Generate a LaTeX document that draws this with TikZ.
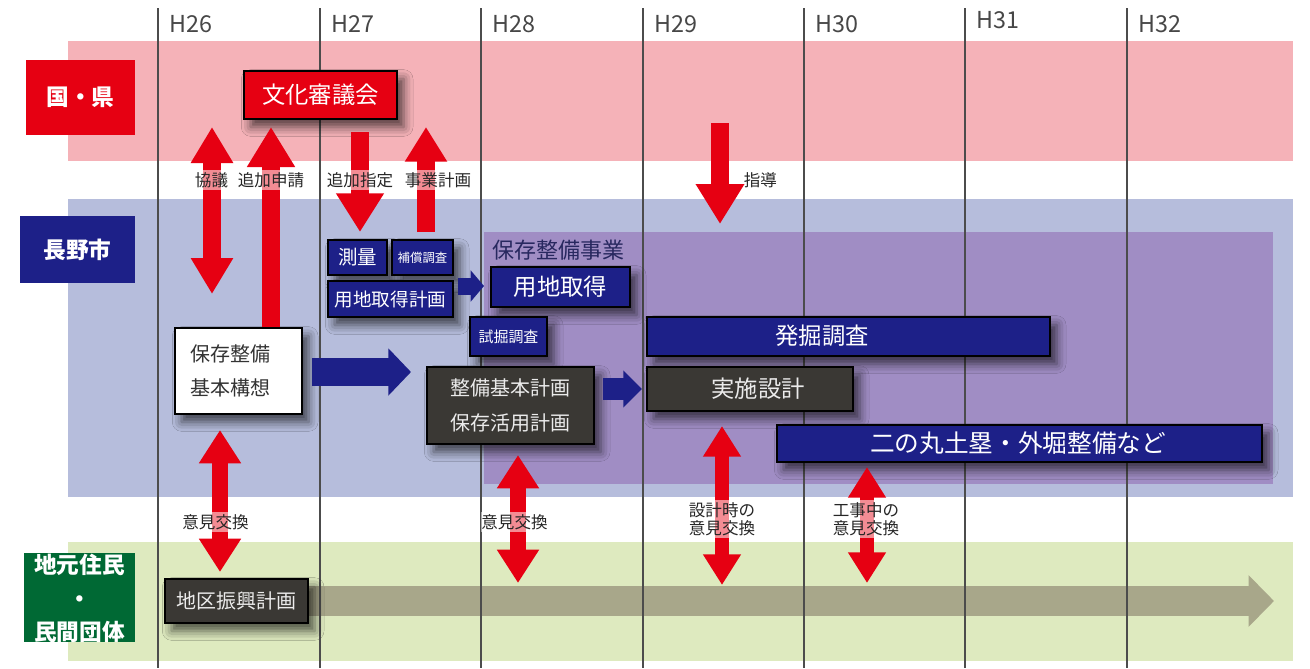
\documentclass[tikz,border=0pt]{standalone}
\usepackage{fontspec}
\setmainfont{Noto Sans CJK JP}
\usetikzlibrary{arrows.meta,shadows,shadows.blur,fit,calc}
\definecolor{pinkband}{RGB}{245,178,184}
\definecolor{blueband}{RGB}{182,189,220}
\definecolor{purplereg}{RGB}{160,141,196}
\definecolor{greenband}{RGB}{222,234,191}
\definecolor{navyc}{RGB}{29,32,136}
\definecolor{redc}{RGB}{230,0,18}
\definecolor{darkc}{RGB}{58,56,52}
\definecolor{olivec}{RGB}{168,167,138}
\definecolor{jgreen}{RGB}{0,105,52}
\definecolor{labnavy}{RGB}{40,40,95}
\definecolor{shadowc}{RGB}{20,15,50}
\tikzset{
  lane/.style={inner sep=0pt, text=white, font=\bfseries\fontsize{17pt}{19pt}\selectfont, align=center},
  box/.style={inner sep=0pt, draw=black, line width=1.2pt,
    blur shadow={shadow xshift=5pt,shadow yshift=-6pt,shadow blur radius=7pt,shadow opacity=65}},
  navybox/.style={box, fill=navyc, text=white},
  darkbox/.style={box, fill=darkc, text=black!8},
  lbl/.style={fill=white, fill opacity=0.55, text opacity=1, text=black!85, inner xsep=0.5pt, inner ysep=1.5pt, font=\fontsize{12.4pt}{13pt}\selectfont},
  yr/.style={anchor=west, text=black!72, font=\fontsize{17.5pt}{18pt}\selectfont},
  vline/.style={draw=black!70, line width=1pt},
}
\begin{document}
\begin{tikzpicture}[x=0.75pt,y=-0.75pt]
\useasboundingbox (0,0) rectangle (1310,668);
\fill[white] (0,0) rectangle (1310,668);
% bands
\fill[pinkband] (68,41) rectangle (1293,161);
\fill[blueband] (68,199) rectangle (1293,497);
\fill[greenband] (68,542) rectangle (1293,661);
\fill[purplereg] (484,232) rectangle (1273,484);
\node[anchor=west, inner sep=0pt, text=labnavy, font=\fontsize{16.5pt}{17pt}\selectfont] (hozonlbl) at (492,250) {保存整備事業};
% olive bar
\coordinate (chikuC) at (236,601);
\coordinate (barend) at (1274,601);
\draw[olivec, line width=22.5pt, -{Triangle[width=37.5pt,length=19pt]}] (chikuC) -- (barend);
% vertical lines and years
\foreach \x/\t/\yy in {158/H26/24,320/H27/24,481/H28/24,643/H29/24,804/H30/24,965/H31/20,1127/H32/24}{
  \draw[vline] (\x,8) -- (\x,668);
  \node[yr] (yr\t) at (\x+7,\yy) {\t};
}
% lane labels
\node[lane, fill=redc, fit={(26,60) (135,135)}] (ken) {};
\node[lane] at (ken.center) (kentxt) {国・県};
\node[lane, fill=navyc, fit={(20,216) (135,283)}] (shi) {};
\node[lane] at (shi.center) (shitxt) {長野市};
\node[lane, fill=jgreen, fit={(24,553) (135,642)}] (jim) {};
\node[lane, font=\bfseries\fontsize{17pt}{25pt}\selectfont] at ($(jim.center)+(0,1)$) (jimtxt) {地元住民\\・\\民間団体};
% boxes
\node[box, fill=redc, fit={(244,71) (397,119)}] (bunka) {};
\node[text=white, font=\fontsize{17.5pt}{18pt}\selectfont] at (bunka.center) {文化審議会};
\node[navybox, fit={(328,240) (387,275)}] (sokuryo) {};
\node[text=white, font=\fontsize{14.6pt}{15pt}\selectfont] at (sokuryo.center) {測量};
\node[navybox, fit={(392,240) (453,275)}] (hosho) {};
\node[text=white, font=\fontsize{9.3pt}{10pt}\selectfont] at (hosho.center) {補償調査};
\node[navybox, fit={(328,281) (453,317)}] (yochikei) {};
\node[text=white, font=\fontsize{13.9pt}{14pt}\selectfont] at (yochikei.center) {用地取得計画};
\node[navybox, fit={(491,267) (630,307)}] (yochi) {};
\node[text=white, font=\fontsize{17.5pt}{18pt}\selectfont] at (yochi.center) {用地取得};
\node[navybox, fit={(470,317) (547,356)}] (shikutsu) {};
\node[text=white, font=\fontsize{11.2pt}{12pt}\selectfont] at (shikutsu.center) {試掘調査};
\node[box, fill=white, fit={(175,328) (302,414)}] (kousou) {};
\node[anchor=west, align=left, text=black!80, font=\fontsize{15pt}{26pt}\selectfont] at (186,371) {保存整備\\基本構想};
\node[darkbox, fit={(427,367) (594,444)}] (kihon) {};
\node[text=black!8, align=center, font=\fontsize{15pt}{26pt}\selectfont] at (kihon.center) {整備基本計画\\保存活用計画};
\node[navybox, fit={(647,317) (1050,356)}] (hakkutsu) {};
\node[text=white, font=\fontsize{17.5pt}{18pt}\selectfont] at (822,336) {発掘調査};
\node[darkbox, fit={(647,367) (853,411)}] (jisshi) {};
\node[text=black!8, font=\fontsize{17.5pt}{18pt}\selectfont] at (758,389) {実施設計};
\node[navybox, fit={(777,425) (1262,462)}] (ninomaru) {};
\node[text=white, font=\fontsize{18.5pt}{19pt}\selectfont] at (1018,443) {二の丸土塁・外堀整備など};
\node[darkbox, fit={(165,579) (308,623)}] (chiku) {};
\node[text=black!8, font=\fontsize{15pt}{16pt}\selectfont] at (chiku.center) {地区振興計画};
% navy arrows
\coordinate (na1S) at (312,372); \coordinate (na1E) at (411,372);
\draw[navyc, line width=21pt, -{Triangle[width=34.5pt,length=17pt]}] (na1S) -- (na1E);
\coordinate (na2S) at (458,286); \coordinate (na2E) at (484,286);
\draw[navyc, line width=12.75pt, -{Triangle[width=23pt,length=10pt]}] (na2S) -- (na2E);
\coordinate (na3S) at (603,389); \coordinate (na3E) at (642,389);
\draw[navyc, line width=16.5pt, -{Triangle[width=27pt,length=14pt]}] (na3S) -- (na3E);
% red arrows
\coordinate (kyT) at (212,127); \coordinate (kyB) at (212,294);
\draw[redc, line width=13.5pt, {Triangle[width=30pt,length=27pt]}-{Triangle[width=30pt,length=27pt]}] (kyT) -- (kyB);
\coordinate (shT) at (271,127);
\draw[redc, line width=13.5pt, -{Triangle[width=34pt,length=30pt]}] (shT |- kousou.north) -- (shT);
\coordinate (stT) at (360,132); \coordinate (stB) at (360,232);
\draw[redc, line width=13.5pt, -{Triangle[width=34pt,length=29pt]}] (stT) -- (stB);
\coordinate (jgB) at (426,232); \coordinate (jgT) at (426,127);
\draw[redc, line width=13.5pt, -{Triangle[width=30pt,length=26pt]}] (jgB) -- (jgT);
\coordinate (sdT) at (720,123); \coordinate (sdB) at (720,224);
\draw[redc, line width=14pt, -{Triangle[width=34.5pt,length=30pt]}] (sdT) -- (sdB);
\coordinate (ik1T) at (220,430); \coordinate (ik1B) at (220,572);
\draw[redc, line width=12pt, {Triangle[width=30pt,length=25pt]}-{Triangle[width=30pt,length=25pt]}] (ik1T) -- (ik1B);
\coordinate (ik2T) at (518,455); \coordinate (ik2B) at (518,583);
\draw[redc, line width=12pt, {Triangle[width=30pt,length=25pt]}-{Triangle[width=30pt,length=25pt]}] (ik2T) -- (ik2B);
\coordinate (ik3T) at (722,426); \coordinate (ik3B) at (722,585);
\draw[redc, line width=11pt, {Triangle[width=27pt,length=23pt]}-{Triangle[width=27pt,length=23pt]}] (ik3T) -- (ik3B);
\coordinate (ik4T) at (867,467); \coordinate (ik4B) at (867,583);
\draw[redc, line width=11pt, {Triangle[width=27pt,length=23pt]}-{Triangle[width=27pt,length=23pt]}] (ik4T) -- (ik4B);
% labels
\node[lbl] (l1) at (211.5,180) {協議};
\node[lbl] (l2) at (271,180) {追加申請};
\node[lbl] (l3) at (360,180) {追加指定};
\node[lbl] (l4) at (438,180) {事業計画};
\node[lbl, fill opacity=0, anchor=west] (l5) at (743,180) {指導};
\node[lbl] (l6) at (215.5,522) {意見交換};
\node[lbl] (l7) at (514.5,522) {意見交換};
\node[lbl, align=center, font=\fontsize{12.4pt}{13.5pt}\selectfont] (l8) at (722,519) {設計時の\\意見交換};
\node[lbl, align=center, font=\fontsize{12.4pt}{13.5pt}\selectfont] (l9) at (866,519) {工事中の\\意見交換};
\end{tikzpicture}
\end{document}
